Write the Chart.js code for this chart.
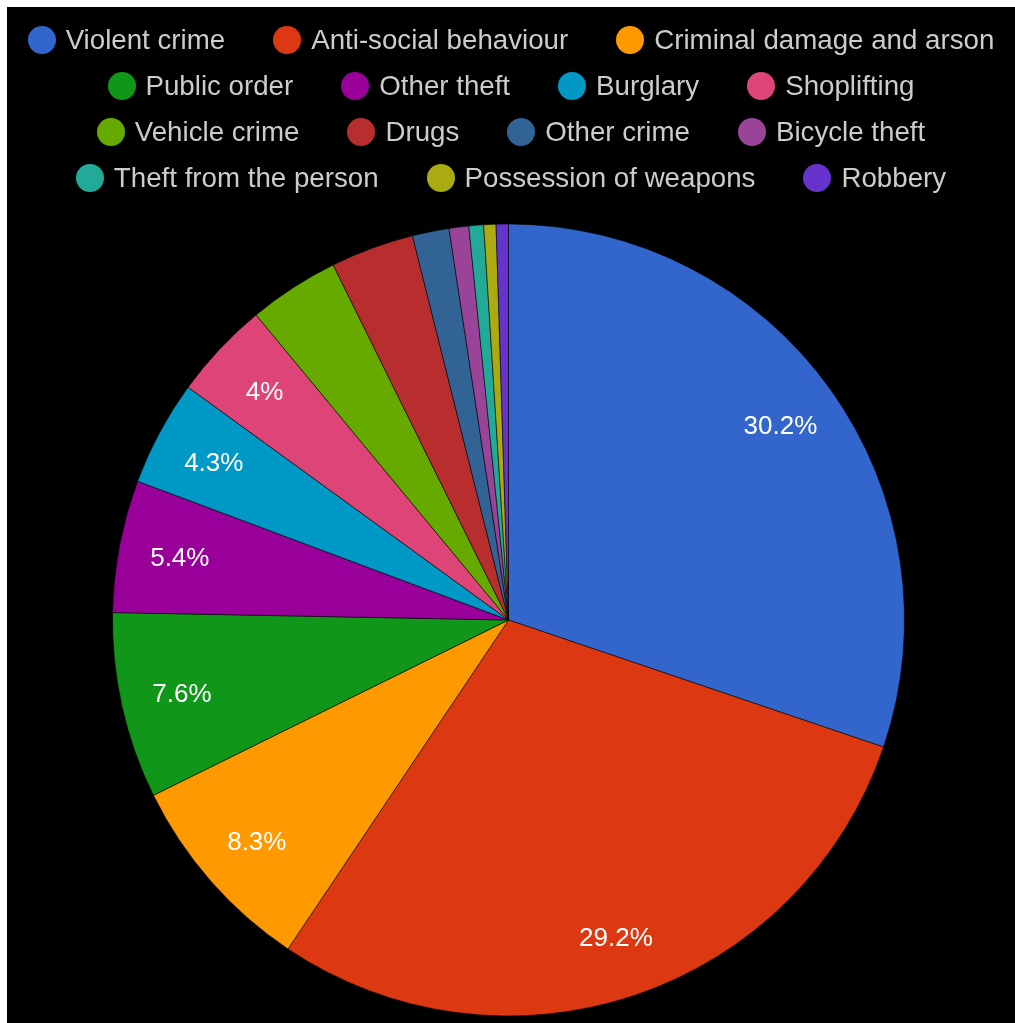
<!DOCTYPE html>
<html>
<head>
<meta charset="utf-8">
<script src="https://cdn.jsdelivr.net/npm/chart.js@4/dist/chart.umd.min.js"></script>
<style>
  html, body { margin: 0; padding: 0; background: #ffffff; width: 1015px; height: 1023px; overflow: hidden; }
  #frame { position: absolute; left: 7px; top: 7px; width: 1008px; height: 1016px; background: #000000; }
  #chart { position: absolute; left: 0; top: 0; }
  #legend {
    position: absolute; left: 7px; top: 17px; width: 1008px;
    display: flex; flex-wrap: wrap; justify-content: center;
    column-gap: 48px; row-gap: 0;
    font-family: "Liberation Sans", Arial, sans-serif; font-size: 27.7px; color: #cccccc;
  }
  .item { display: flex; align-items: center; height: 46px; white-space: nowrap; }
  .dot { width: 28px; height: 28px; border-radius: 50%; margin-right: 10px; flex: none; }
</style>
</head>
<body>
<div id="frame"></div>
<canvas id="chart" width="1015" height="1023"></canvas>
<div id="legend"></div>
<script>
const categories = [
  "Violent crime", "Anti-social behaviour", "Criminal damage and arson",
  "Public order", "Other theft", "Burglary", "Shoplifting",
  "Vehicle crime", "Drugs", "Other crime", "Bicycle theft",
  "Theft from the person", "Possession of weapons", "Robbery"
];
const percentages = [30.2, 29.2, 8.3, 7.6, 5.4, 4.3, 4.0, 3.7, 3.4, 1.5, 0.8, 0.6, 0.5, 0.5];
const colors = [
  "#3366cc", "#dc3912", "#ff9900", "#109618", "#990099", "#0099c6", "#dd4477",
  "#66aa00", "#b82e2e", "#316395", "#994499", "#22aa99", "#aaaa11", "#6633cc"
];
const labelThreshold = 4.0;

// HTML legend built from the arrays
const legendEl = document.getElementById('legend');
categories.forEach((name, i) => {
  const item = document.createElement('div');
  item.className = 'item';
  const dot = document.createElement('span');
  dot.className = 'dot';
  dot.style.background = colors[i];
  const txt = document.createElement('span');
  txt.textContent = name;
  item.appendChild(dot);
  item.appendChild(txt);
  legendEl.appendChild(item);
});

const sliceLabels = {
  id: 'sliceLabels',
  afterDatasetsDraw(chart) {
    const ctx = chart.ctx;
    const meta = chart.getDatasetMeta(0);
    const data = chart.data.datasets[0].data;
    const total = data.reduce((a, b) => a + b, 0);
    ctx.save();
    ctx.font = '26px "Liberation Sans", Arial, sans-serif';
    ctx.fillStyle = '#ffffff';
    ctx.textAlign = 'center';
    ctx.textBaseline = 'middle';
    meta.data.forEach((arc, i) => {
      const pct = data[i] / total * 100;
      if (pct < labelThreshold - 1e-9) return;
      const p = arc.getProps(['x', 'y', 'startAngle', 'endAngle', 'outerRadius'], true);
      const mid = (p.startAngle + p.endAngle) / 2;
      const r = p.outerRadius * 0.845;
      const x = p.x + r * Math.cos(mid);
      const y = p.y + r * Math.sin(mid) + 2;
      const text = (Math.round(pct * 10) / 10).toString() + '%';
      ctx.fillText(text, x, y);
    });
    ctx.restore();
  }
};

new Chart(document.getElementById('chart'), {
  type: 'pie',
  data: {
    labels: categories,
    datasets: [{
      data: percentages,
      backgroundColor: colors,
      borderColor: 'rgba(0,0,0,0.55)',
      borderWidth: 1
    }]
  },
  options: {
    responsive: false,
    animation: false,
    radius: 396,
    layout: { padding: { left: 113, right: 111, top: 224, bottom: 7 } },
    plugins: {
      legend: { display: false },
      tooltip: { enabled: false }
    }
  },
  plugins: [sliceLabels]
});
</script>
</body>
</html>
